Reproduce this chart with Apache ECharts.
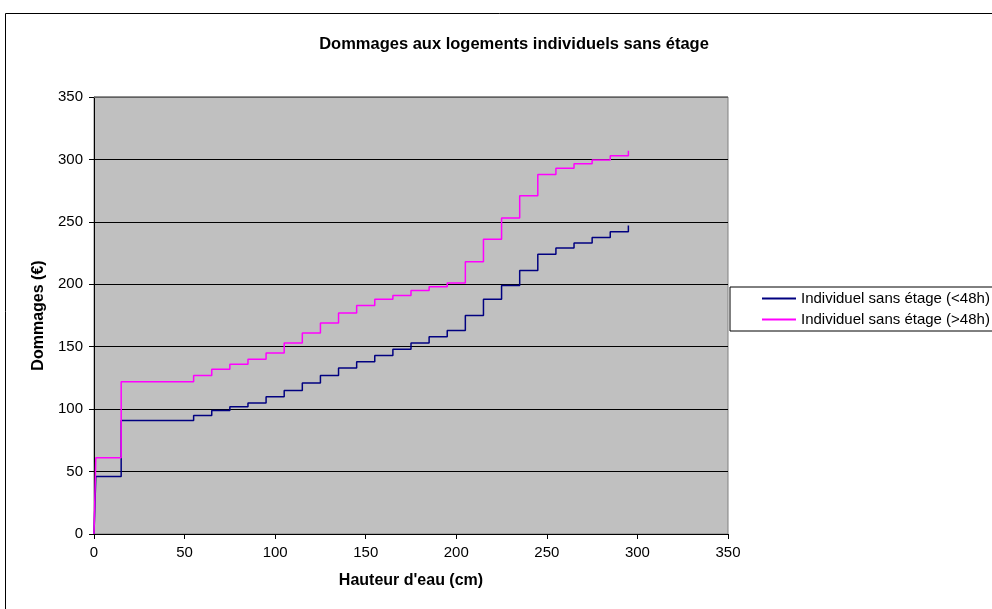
<!DOCTYPE html>
<html>
<head>
<meta charset="utf-8">
<script src="https://cdn.jsdelivr.net/npm/echarts@6/dist/echarts.min.js"></script>
<style>
  html, body { margin: 0; padding: 0; background: #fff; }
  #chart { width: 992px; height: 609px; }
</style>
</head>
<body>
<div id="chart"></div>
<script>
// Water height (cm) at each step of the damage curve
const heights = [0, 1, 15, 25, 35, 45, 55, 65, 75, 85, 95, 105, 115, 125, 135, 145, 155, 165, 175, 185, 195, 205, 215, 225, 235, 245, 255, 265, 275, 285, 295];
// Damages (€) for short flooding (< 48h)
const damagesShort = [0, 46, 91, 91, 91, 91, 95, 99, 102, 105, 110, 115, 121, 127, 133, 138, 143, 148, 153, 158, 163, 175, 188, 199, 211, 224, 229, 233, 237.5, 242, 247];
// Damages (€) for long flooding (> 48h)
const damagesLong = [0, 61, 122, 122, 122, 122, 127, 132, 136, 140, 145, 153, 161, 169, 177, 183, 188, 191, 195, 198, 201, 218, 236, 253, 271, 288, 293, 296.5, 299.5, 303, 307];
const seriesNames = ['Individuel sans étage (<48h)', 'Individuel sans étage (>48h)'];
const axisTicks = [0, 50, 100, 150, 200, 250, 300, 350];

const FONT = '"Liberation Sans", Arial, sans-serif';
const pairs = (ys) => heights.map((h, i) => [h, ys[i]]);

const GRID = { left: 94, right: 264, top: 97, bottom: 75 };

const chart = echarts.init(document.getElementById('chart'), null, { renderer: 'canvas' });

chart.setOption({
  animation: false,
  backgroundColor: '#ffffff',
  title: {
    text: 'Dommages aux logements individuels sans étage',
    left: 509,
    textAlign: 'center',
    top: 31,
    textStyle: { fontFamily: FONT, fontSize: 16.5, fontWeight: 'bold', color: '#000' }
  },
  graphic: [
    {
      // outer chart frame
      type: 'rect',
      shape: { x: 5.5, y: 13.5, width: 1000, height: 700 },
      style: { fill: 'none', stroke: '#000', lineWidth: 1 },
      silent: true,
      z: -1
    },
    {
      // grey top edge of the plot area
      type: 'line',
      shape: { x1: GRID.left, y1: GRID.top, x2: 992 - GRID.right, y2: GRID.top },
      style: { stroke: '#808080', lineWidth: 1.5 },
      silent: true,
      z: 50
    }
  ],
  legend: {
    orient: 'vertical',
    left: 730,
    top: 287,
    padding: [4, 20, 4, 32],
    itemGap: 6,
    itemWidth: 34,
    itemHeight: 2,
    icon: 'rect',
    borderColor: '#000',
    borderWidth: 1,
    backgroundColor: '#fff',
    textStyle: { fontFamily: FONT, fontSize: 15, color: '#000' },
    data: seriesNames
  },
  grid: {
    left: GRID.left,
    right: GRID.right,
    top: GRID.top,
    bottom: GRID.bottom,
    show: true,
    backgroundColor: '#c0c0c0',
    borderColor: '#808080',
    borderWidth: 1
  },
  xAxis: {
    type: 'value',
    min: axisTicks[0],
    max: axisTicks[axisTicks.length - 1],
    interval: 50,
    name: "Hauteur d'eau (cm)",
    nameLocation: 'middle',
    nameGap: 39,
    nameTextStyle: { fontFamily: FONT, fontSize: 16, fontWeight: 'bold', color: '#000' },
    axisLine: { show: true, onZero: false, lineStyle: { color: '#000', width: 1 } },
    axisTick: { show: true, inside: false, length: 5, lineStyle: { color: '#000' } },
    axisLabel: { fontFamily: FONT, fontSize: 15, color: '#000', margin: 11 },
    splitLine: { show: false }
  },
  yAxis: {
    type: 'value',
    min: axisTicks[0],
    max: axisTicks[axisTicks.length - 1],
    interval: 50,
    name: 'Dommages (€)',
    nameLocation: 'middle',
    nameGap: 45,
    nameRotate: 90,
    nameTextStyle: { fontFamily: FONT, fontSize: 16, fontWeight: 'bold', color: '#000' },
    axisLine: { show: true, onZero: false, lineStyle: { color: '#000', width: 1 } },
    axisTick: { show: true, inside: false, length: 5, lineStyle: { color: '#000' } },
    axisLabel: { fontFamily: FONT, fontSize: 15, color: '#000', margin: 11 },
    splitLine: { show: true, lineStyle: { color: '#000', width: 1 } }
  },
  series: [
    {
      name: seriesNames[0],
      type: 'line',
      step: 'end',
      data: pairs(damagesShort),
      showSymbol: false,
      color: '#000080',
      lineStyle: { color: '#000080', width: 1.5 }
    },
    {
      name: seriesNames[1],
      type: 'line',
      step: 'end',
      data: pairs(damagesLong),
      showSymbol: false,
      color: '#ff00ff',
      lineStyle: { color: '#ff00ff', width: 1.5 }
    }
  ]
});
</script>
</body>
</html>
